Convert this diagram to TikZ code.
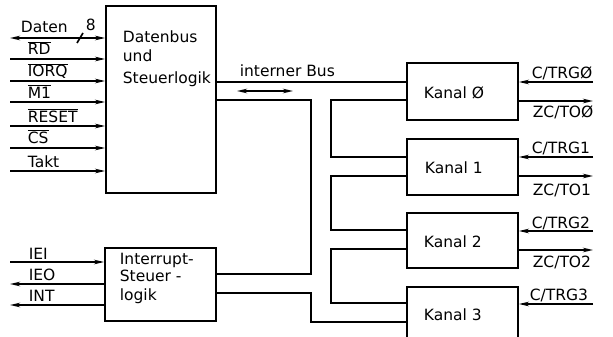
\documentclass[tikz,border=0pt]{standalone}
\usepackage{fontspec}
\setmainfont{DejaVu Sans}
\usetikzlibrary{arrows.meta}
\newcommand{\ovl}[1]{$\overline{\hbox{#1}}$}
\begin{document}
\begin{tikzpicture}[x=1pt,y=-1pt,line width=1.7pt,
  box/.style={draw,rectangle,inner sep=0pt},
  lbl/.style={font=\fontsize{15.5}{17}\selectfont,inner sep=0pt,anchor=base west},
  tipin/.style={-{Stealth[length=10pt,width=4.5pt]}},
  tipboth/.style={{Stealth[length=10pt,width=4.5pt]}-{Stealth[length=10pt,width=4.5pt]}}]
\useasboundingbox (0,0) rectangle (613,337);
% boxes
\node[box,minimum width=110pt,minimum height=187pt] (main) at (161,99.5) {};
\node[box,minimum width=111pt,minimum height=73pt] (intr) at (160.5,284.5) {};
\node[box,minimum width=111pt,minimum height=57pt] (k0) at (462.5,91.5) {};
\node[box,minimum width=111pt,minimum height=56pt] (k1) at (462.5,167) {};
\node[box,minimum width=111pt,minimum height=55pt] (k2) at (462.5,240.5) {};
\node[box,minimum width=111pt,minimum height=57pt] (k3) at (462.5,315.5) {};
% box texts
\node[lbl] (t1) at (122,43) {Datenbus};
\node[lbl] (t2) at (122,62) {und};
\node[lbl] (t3) at (122,83) {Steuerlogik};
\node[lbl] (t4) at (119,264) {Interrupt-};
\node[lbl] (t5) at (119,281) {Steuer -};
\node[lbl] (t6) at (119,300) {logik};
\node[lbl] (tk0) at (423,98) {Kanal Ø};
\node[lbl] (tk1) at (424,173) {Kanal 1};
\node[lbl] (tk2) at (423,247) {Kanal 2};
\node[lbl] (tk3) at (423,320) {Kanal 3};
% left signals
\foreach \n/\y in {da/38,rd/59,io/81,mo/102,re/126,cs/148,ta/171}
  \coordinate (L\n) at (10,\y);
\draw[tipboth] (Lda) -- (Lda -| main.west);
\foreach \n in {rd,io,mo,re,cs,ta}
  \draw[tipin] (L\n) -- (L\n -| main.west);
\draw (77,43) -- (83,33);
\node[lbl] (lda) at (20,33) {Daten};
\node[lbl] (l8) at (85,31) {8};
\node[lbl] (lrd) at (27,55) {\ovl{RD}};
\node[lbl] (lio) at (27,77) {\ovl{IORQ}};
\node[lbl] (lmo) at (27,98) {\ovl{M1}};
\node[lbl] (lre) at (27,122) {\ovl{RESET}};
\node[lbl] (lcs) at (27,143) {\ovl{CS}};
\node[lbl] (lta) at (27,167) {Takt};
% interrupt signals
\coordinate (Lie) at (10,262);
\coordinate (Lio2) at (10,284);
\coordinate (Lin) at (10,305);
\draw[tipin] (Lie) -- (Lie -| intr.west);
\draw[tipin] (Lio2 -| intr.west) -- (Lio2);
\draw[tipin] (Lin -| intr.west) -- (Lin);
\node[lbl] (lie) at (28,259) {IEI};
\node[lbl] (lieo) at (28,280) {IEO};
\node[lbl] (lint) at (28,301) {INT};
% internal bus
\draw (main.east |- 0,82) -- (k0.west |- 0,82);
\node[lbl] (bus) at (239,77) {interner Bus};
\coordinate (ba) at (237,91);
\coordinate (bb) at (293,91);
\draw[tipboth] (ba) -- (bb);
\coordinate (o1) at (311,100);
\coordinate (o2) at (311,293);
\draw (main.east |- o1) -- (o1) -- (311,274) -- (intr.east |- 0,274);
\draw (intr.east |- o2) -- (o2) -- (311,322) -- (k3.west |- 0,322);
\draw (k0.west |- 0,100) -- (331,100) -- (331,157) -- (k1.west |- 0,157);
\draw (k1.west |- 0,176) -- (331,176) -- (331,230) -- (k2.west |- 0,230);
\draw (k2.west |- 0,249) -- (331,249) -- (331,303) -- (k3.west |- 0,303);
% right side
\foreach \k/\a/\b in {k0/82/101,k1/157/176,k2/231/250}{
  \draw[tipin] (593,\a) -- (\k.east |- 0,\a);
  \draw[tipin] (\k.east |- 0,\b) -- (593,\b);
}
\draw[tipin] (593,304) -- (k3.east |- 0,304);
\node[lbl] (r0) at (531,78) {C/TRGØ};
\node[lbl] (s0) at (532,117) {ZC/TOØ};
\node[lbl] (r1) at (531,153) {C/TRG1};
\node[lbl] (s1) at (532,195) {ZC/TO1};
\node[lbl] (r2) at (531,228) {C/TRG2};
\node[lbl] (s2) at (532,267) {ZC/TO2};
\node[lbl] (r3) at (529,300) {C/TRG3};
\end{tikzpicture}
\end{document}
